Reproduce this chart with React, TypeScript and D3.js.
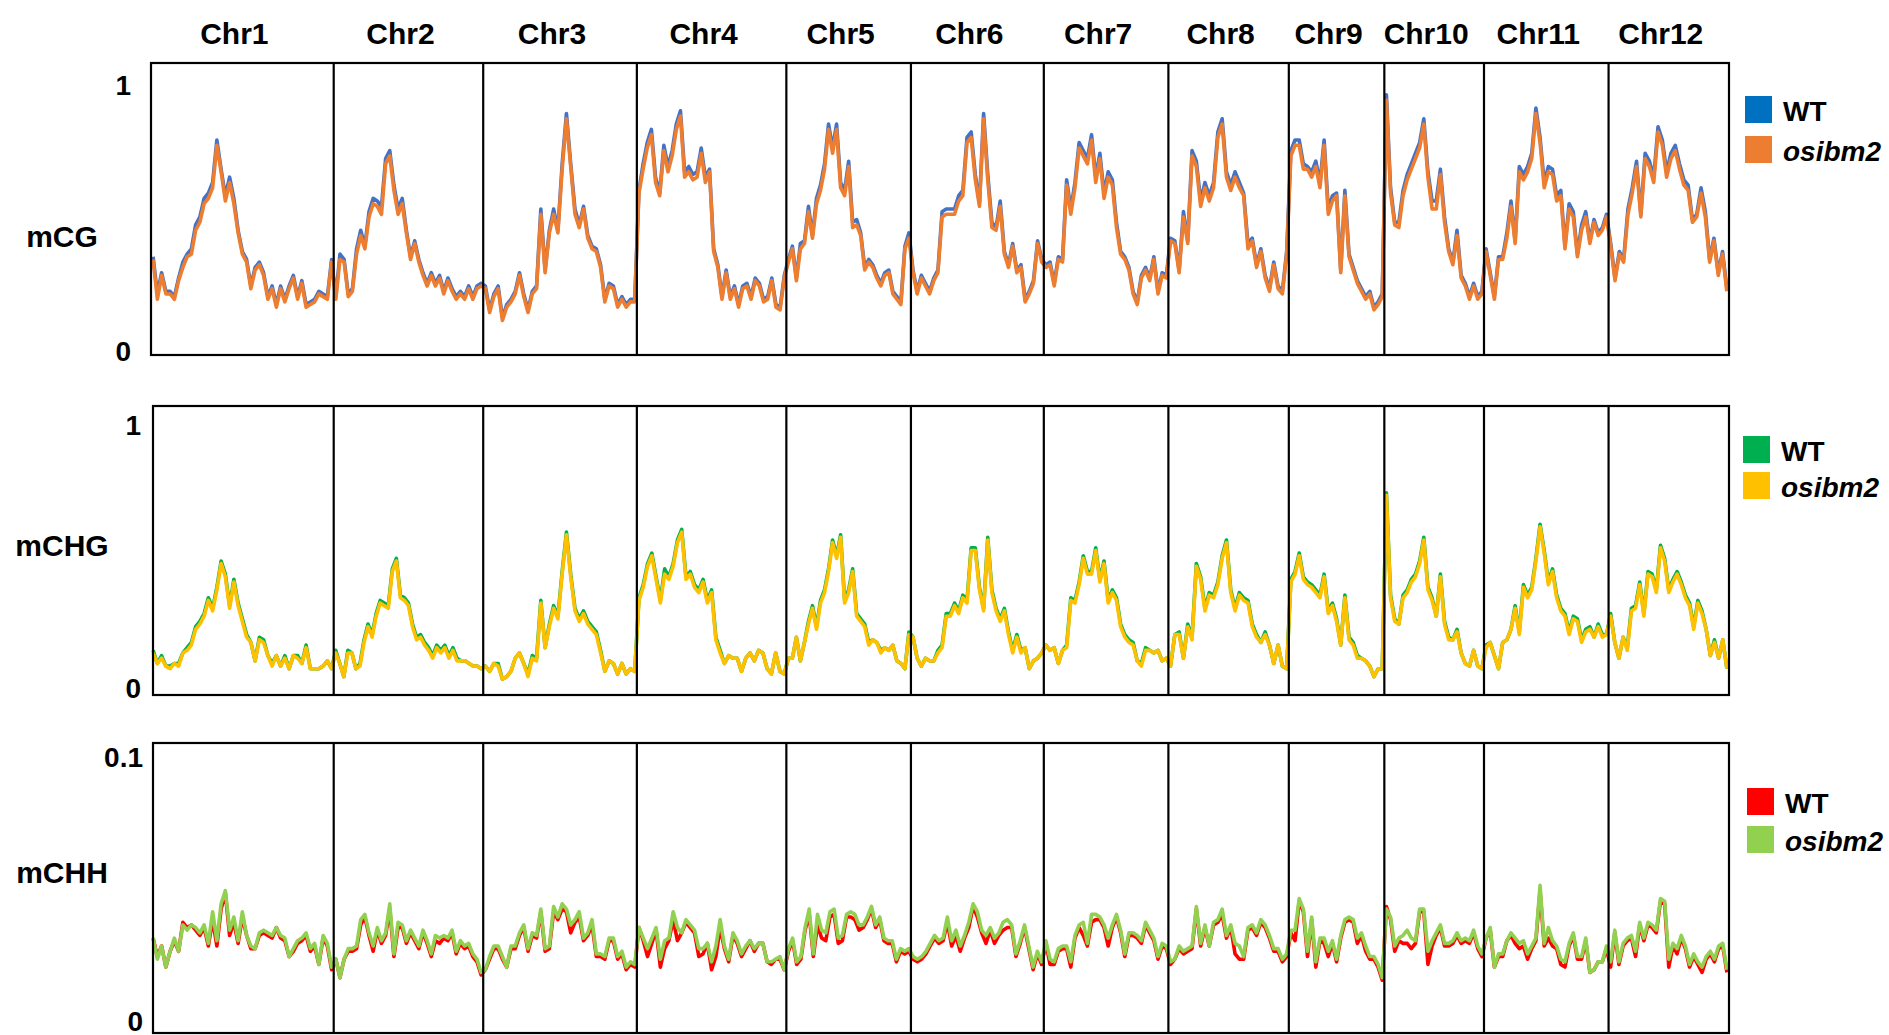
import React from 'react';
import * as d3 from 'd3';

// chromosome names and their width in 1 Mb bins
const chromosomes = ['Chr1', 'Chr2', 'Chr3', 'Chr4', 'Chr5', 'Chr6', 'Chr7', 'Chr8', 'Chr9', 'Chr10', 'Chr11', 'Chr12'];
const chromBins = [44, 36, 37, 36, 30, 32, 30, 29, 23, 24, 30, 29];

// mCG
const cgWT: number[][] = [
  [0.37,0.23,0.31,0.24,0.24,0.22,0.29,0.35,0.38,0.40,0.49,0.52,0.59,0.61,0.65,0.81,0.70,0.60,0.67,0.59,0.47,0.39,0.36,0.26,0.33,0.35,0.31,0.22,0.26,0.19,0.26,0.21,0.26,0.30,0.22,0.28,0.19,0.20,0.21,0.24,0.23,0.22,0.36],
  [0.22,0.38,0.36,0.23,0.25,0.40,0.47,0.41,0.54,0.59,0.58,0.56,0.74,0.77,0.64,0.55,0.59,0.47,0.37,0.43,0.36,0.31,0.27,0.31,0.27,0.30,0.24,0.29,0.25,0.22,0.24,0.22,0.26,0.22,0.26,0.27],
  [0.26,0.17,0.23,0.26,0.14,0.19,0.21,0.24,0.31,0.23,0.17,0.24,0.26,0.55,0.32,0.47,0.55,0.47,0.72,0.91,0.72,0.55,0.49,0.56,0.45,0.41,0.40,0.34,0.21,0.27,0.26,0.19,0.22,0.19,0.21,0.21],
  [0.62,0.72,0.80,0.85,0.67,0.61,0.79,0.71,0.77,0.87,0.92,0.69,0.71,0.68,0.69,0.78,0.67,0.70,0.40,0.34,0.22,0.32,0.22,0.26,0.19,0.26,0.27,0.22,0.29,0.27,0.21,0.22,0.29,0.19,0.18,0.30],
  [0.36,0.41,0.29,0.42,0.43,0.56,0.45,0.59,0.64,0.72,0.87,0.78,0.87,0.65,0.62,0.73,0.50,0.51,0.46,0.33,0.36,0.34,0.30,0.27,0.31,0.32,0.24,0.22,0.20,0.41,0.46],
  [0.32,0.24,0.30,0.27,0.24,0.29,0.32,0.54,0.55,0.55,0.55,0.60,0.62,0.82,0.84,0.68,0.57,0.91,0.68,0.50,0.48,0.58,0.39,0.34,0.42,0.32,0.34,0.21,0.24,0.28,0.43,0.36],
  [0.34,0.35,0.27,0.37,0.36,0.66,0.55,0.65,0.80,0.77,0.74,0.83,0.67,0.76,0.61,0.69,0.66,0.50,0.39,0.37,0.33,0.24,0.20,0.30,0.33,0.29,0.37,0.24,0.31,0.30],
  [0.44,0.43,0.32,0.54,0.43,0.77,0.73,0.58,0.65,0.60,0.65,0.84,0.89,0.69,0.64,0.69,0.65,0.61,0.42,0.44,0.34,0.40,0.30,0.25,0.35,0.26,0.24,0.39],
  [0.77,0.81,0.81,0.72,0.71,0.69,0.73,0.65,0.81,0.55,0.60,0.61,0.32,0.62,0.38,0.33,0.28,0.25,0.22,0.24,0.18,0.20,0.23],
  [0.98,0.63,0.50,0.50,0.62,0.68,0.72,0.76,0.80,0.89,0.69,0.58,0.58,0.70,0.52,0.40,0.35,0.47,0.30,0.27,0.22,0.27,0.22,0.24],
  [0.40,0.31,0.22,0.37,0.37,0.46,0.58,0.43,0.71,0.68,0.71,0.76,0.93,0.82,0.65,0.71,0.70,0.60,0.62,0.41,0.57,0.54,0.38,0.49,0.54,0.43,0.51,0.46,0.48,0.53],
  [0.42,0.29,0.39,0.36,0.55,0.63,0.73,0.53,0.76,0.73,0.67,0.86,0.81,0.69,0.76,0.79,0.72,0.66,0.64,0.51,0.53,0.63,0.54,0.36,0.44,0.31,0.39,0.25],
];
const cgMut: number[][] = [
  [0.36,0.21,0.30,0.23,0.23,0.21,0.28,0.33,0.37,0.38,0.47,0.50,0.57,0.59,0.63,0.79,0.69,0.58,0.65,0.57,0.46,0.38,0.35,0.25,0.32,0.34,0.30,0.21,0.25,0.18,0.25,0.20,0.25,0.29,0.21,0.27,0.18,0.19,0.20,0.23,0.22,0.21,0.35],
  [0.21,0.36,0.35,0.22,0.24,0.38,0.45,0.40,0.52,0.57,0.56,0.53,0.72,0.75,0.62,0.53,0.57,0.46,0.36,0.42,0.35,0.30,0.26,0.30,0.26,0.29,0.23,0.28,0.24,0.21,0.23,0.21,0.25,0.21,0.25,0.26],
  [0.25,0.16,0.22,0.25,0.13,0.18,0.20,0.23,0.30,0.22,0.16,0.23,0.25,0.53,0.31,0.46,0.53,0.46,0.70,0.89,0.71,0.53,0.48,0.55,0.44,0.40,0.39,0.33,0.20,0.26,0.25,0.18,0.21,0.18,0.20,0.20],
  [0.61,0.70,0.78,0.83,0.65,0.60,0.77,0.69,0.75,0.85,0.90,0.67,0.69,0.66,0.67,0.76,0.65,0.69,0.39,0.33,0.21,0.31,0.21,0.25,0.18,0.25,0.26,0.21,0.28,0.26,0.20,0.21,0.28,0.18,0.17,0.29],
  [0.35,0.40,0.28,0.40,0.42,0.54,0.44,0.57,0.62,0.70,0.85,0.76,0.85,0.63,0.60,0.71,0.48,0.49,0.45,0.32,0.35,0.33,0.29,0.26,0.30,0.31,0.23,0.21,0.19,0.40,0.44],
  [0.31,0.23,0.29,0.26,0.23,0.28,0.31,0.52,0.53,0.53,0.53,0.58,0.60,0.80,0.82,0.66,0.56,0.89,0.66,0.48,0.47,0.56,0.38,0.33,0.41,0.31,0.33,0.20,0.23,0.27,0.42,0.35],
  [0.33,0.34,0.26,0.36,0.35,0.64,0.53,0.63,0.78,0.75,0.72,0.81,0.65,0.74,0.59,0.67,0.64,0.48,0.38,0.36,0.32,0.23,0.19,0.29,0.32,0.28,0.36,0.23,0.30,0.29],
  [0.43,0.42,0.31,0.52,0.42,0.75,0.71,0.56,0.63,0.58,0.63,0.82,0.87,0.67,0.62,0.67,0.63,0.60,0.40,0.43,0.33,0.39,0.29,0.24,0.34,0.25,0.23,0.38],
  [0.75,0.79,0.79,0.70,0.70,0.67,0.71,0.63,0.79,0.53,0.58,0.60,0.31,0.60,0.37,0.32,0.27,0.24,0.21,0.23,0.17,0.19,0.22],
  [0.96,0.61,0.49,0.48,0.60,0.66,0.70,0.74,0.78,0.87,0.67,0.55,0.55,0.68,0.50,0.39,0.34,0.45,0.29,0.26,0.21,0.26,0.21,0.23],
  [0.39,0.30,0.21,0.36,0.36,0.44,0.56,0.42,0.69,0.66,0.69,0.74,0.91,0.80,0.63,0.69,0.68,0.58,0.60,0.40,0.55,0.52,0.37,0.47,0.52,0.42,0.50,0.45,0.47,0.52],
  [0.41,0.28,0.38,0.35,0.53,0.61,0.71,0.52,0.74,0.71,0.65,0.84,0.79,0.67,0.74,0.77,0.70,0.64,0.62,0.50,0.52,0.61,0.52,0.35,0.43,0.30,0.38,0.24],
];

// mCHG
const chgWT: number[][] = [
  [0.17,0.12,0.15,0.11,0.11,0.12,0.12,0.16,0.18,0.20,0.26,0.28,0.31,0.37,0.33,0.41,0.51,0.46,0.34,0.44,0.35,0.29,0.23,0.20,0.13,0.22,0.21,0.15,0.12,0.15,0.11,0.15,0.10,0.15,0.15,0.12,0.19,0.10,0.10,0.10,0.11,0.13,0.10],
  [0.17,0.12,0.07,0.17,0.16,0.10,0.12,0.21,0.27,0.23,0.31,0.36,0.35,0.34,0.48,0.52,0.38,0.37,0.35,0.27,0.22,0.23,0.20,0.18,0.15,0.19,0.17,0.19,0.15,0.18,0.14,0.13,0.13,0.12,0.11,0.11,0.10],
  [0.11,0.09,0.12,0.12,0.06,0.07,0.09,0.14,0.16,0.12,0.08,0.15,0.14,0.36,0.18,0.27,0.34,0.30,0.47,0.62,0.46,0.33,0.29,0.32,0.28,0.26,0.24,0.17,0.09,0.13,0.12,0.08,0.12,0.08,0.10,0.09],
  [0.37,0.42,0.50,0.54,0.45,0.36,0.48,0.45,0.50,0.59,0.63,0.45,0.47,0.42,0.40,0.44,0.36,0.40,0.22,0.17,0.12,0.15,0.14,0.14,0.09,0.14,0.16,0.13,0.17,0.16,0.10,0.08,0.16,0.09,0.08],
  [0.14,0.14,0.22,0.13,0.20,0.28,0.34,0.26,0.36,0.40,0.48,0.59,0.53,0.61,0.36,0.40,0.48,0.31,0.29,0.27,0.20,0.21,0.20,0.17,0.18,0.17,0.19,0.13,0.12,0.10,0.24],
  [0.22,0.14,0.11,0.14,0.13,0.13,0.17,0.19,0.31,0.31,0.35,0.32,0.38,0.36,0.56,0.56,0.41,0.33,0.60,0.40,0.33,0.29,0.33,0.24,0.17,0.23,0.17,0.18,0.10,0.13,0.14,0.16],
  [0.19,0.17,0.18,0.12,0.17,0.19,0.37,0.36,0.43,0.53,0.47,0.47,0.56,0.44,0.51,0.36,0.40,0.37,0.27,0.23,0.21,0.20,0.13,0.12,0.18,0.17,0.16,0.17,0.13,0.14],
  [0.11,0.23,0.24,0.14,0.27,0.22,0.50,0.45,0.33,0.39,0.38,0.43,0.53,0.59,0.40,0.33,0.39,0.37,0.36,0.27,0.23,0.20,0.24,0.19,0.12,0.19,0.11,0.10],
  [0.44,0.47,0.54,0.45,0.43,0.42,0.40,0.38,0.46,0.32,0.35,0.29,0.19,0.38,0.22,0.20,0.15,0.14,0.13,0.11,0.07,0.10,0.10],
  [0.77,0.38,0.29,0.27,0.38,0.40,0.44,0.46,0.51,0.60,0.41,0.37,0.30,0.46,0.28,0.22,0.21,0.25,0.16,0.12,0.11,0.17,0.11,0.10],
  [0.19,0.20,0.15,0.10,0.20,0.21,0.25,0.34,0.24,0.42,0.38,0.41,0.52,0.65,0.55,0.43,0.48,0.38,0.33,0.31,0.24,0.30,0.29,0.21,0.25,0.26,0.22,0.27,0.23,0.23],
  [0.31,0.20,0.14,0.22,0.18,0.33,0.34,0.43,0.31,0.47,0.46,0.40,0.57,0.52,0.40,0.44,0.47,0.43,0.38,0.35,0.26,0.36,0.32,0.25,0.15,0.21,0.14,0.21,0.10],
];
const chgMut: number[][] = [
  [0.16,0.12,0.14,0.11,0.10,0.12,0.11,0.16,0.17,0.19,0.25,0.27,0.30,0.36,0.32,0.40,0.50,0.45,0.33,0.43,0.34,0.28,0.22,0.20,0.13,0.21,0.20,0.15,0.11,0.15,0.11,0.14,0.10,0.15,0.14,0.12,0.18,0.10,0.10,0.10,0.11,0.13,0.10],
  [0.16,0.12,0.07,0.16,0.16,0.10,0.11,0.20,0.26,0.22,0.30,0.35,0.34,0.33,0.47,0.51,0.37,0.36,0.34,0.26,0.21,0.22,0.19,0.17,0.14,0.18,0.16,0.18,0.14,0.17,0.13,0.13,0.13,0.12,0.11,0.11,0.10],
  [0.11,0.09,0.12,0.11,0.06,0.07,0.09,0.14,0.16,0.12,0.07,0.14,0.13,0.35,0.18,0.26,0.33,0.29,0.46,0.61,0.45,0.32,0.28,0.31,0.27,0.25,0.23,0.16,0.09,0.13,0.12,0.08,0.12,0.08,0.10,0.09],
  [0.36,0.41,0.49,0.53,0.44,0.35,0.46,0.44,0.49,0.58,0.62,0.44,0.46,0.41,0.39,0.43,0.35,0.39,0.21,0.16,0.12,0.15,0.14,0.14,0.09,0.14,0.16,0.13,0.17,0.16,0.10,0.08,0.16,0.09,0.08],
  [0.14,0.14,0.22,0.13,0.20,0.27,0.33,0.25,0.35,0.39,0.47,0.58,0.52,0.60,0.35,0.39,0.47,0.30,0.28,0.26,0.19,0.21,0.20,0.16,0.18,0.17,0.19,0.13,0.12,0.10,0.23],
  [0.22,0.14,0.11,0.14,0.13,0.13,0.16,0.18,0.30,0.30,0.34,0.31,0.37,0.35,0.55,0.55,0.40,0.32,0.59,0.39,0.32,0.28,0.32,0.23,0.16,0.22,0.16,0.18,0.10,0.13,0.14,0.16],
  [0.19,0.17,0.18,0.12,0.17,0.18,0.36,0.35,0.42,0.52,0.46,0.46,0.55,0.43,0.50,0.35,0.39,0.36,0.26,0.22,0.20,0.19,0.13,0.11,0.17,0.17,0.16,0.17,0.13,0.14],
  [0.11,0.23,0.23,0.14,0.26,0.21,0.49,0.44,0.32,0.38,0.37,0.42,0.52,0.58,0.39,0.32,0.38,0.36,0.35,0.26,0.22,0.20,0.23,0.19,0.12,0.19,0.11,0.10],
  [0.43,0.46,0.53,0.44,0.42,0.41,0.39,0.37,0.45,0.31,0.34,0.28,0.19,0.37,0.21,0.19,0.14,0.14,0.13,0.11,0.07,0.10,0.10],
  [0.76,0.37,0.28,0.27,0.37,0.39,0.43,0.45,0.50,0.59,0.40,0.36,0.30,0.45,0.27,0.21,0.21,0.24,0.16,0.12,0.11,0.17,0.11,0.10],
  [0.18,0.20,0.15,0.10,0.20,0.21,0.25,0.33,0.23,0.41,0.37,0.40,0.51,0.64,0.54,0.42,0.47,0.37,0.32,0.30,0.23,0.29,0.28,0.20,0.24,0.25,0.22,0.26,0.22,0.23],
  [0.30,0.20,0.14,0.22,0.17,0.32,0.33,0.42,0.30,0.46,0.45,0.39,0.56,0.51,0.39,0.43,0.46,0.42,0.37,0.34,0.25,0.35,0.31,0.25,0.15,0.20,0.14,0.21,0.10],
];

// mCHH
const chhWT: number[][] = [
  [0.036,0.029,0.033,0.025,0.031,0.035,0.031,0.042,0.040,0.041,0.039,0.037,0.040,0.033,0.043,0.033,0.047,0.053,0.037,0.042,0.034,0.044,0.037,0.032,0.032,0.037,0.038,0.037,0.036,0.040,0.036,0.035,0.029,0.031,0.034,0.035,0.037,0.031,0.033,0.026,0.036,0.033,0.024],
  [0.028,0.021,0.028,0.031,0.031,0.032,0.041,0.044,0.037,0.031,0.039,0.034,0.037,0.047,0.029,0.040,0.040,0.034,0.038,0.035,0.032,0.038,0.034,0.029,0.035,0.034,0.036,0.035,0.038,0.030,0.034,0.032,0.033,0.029,0.027,0.022],
  [0.024,0.028,0.032,0.032,0.028,0.025,0.032,0.032,0.037,0.040,0.031,0.037,0.036,0.046,0.031,0.032,0.046,0.043,0.047,0.046,0.038,0.042,0.044,0.035,0.037,0.041,0.029,0.029,0.028,0.035,0.035,0.028,0.030,0.024,0.026,0.025],
  [0.040,0.035,0.029,0.034,0.039,0.025,0.032,0.035,0.043,0.035,0.038,0.042,0.040,0.038,0.029,0.030,0.034,0.024,0.029,0.040,0.032,0.027,0.037,0.034,0.029,0.032,0.035,0.031,0.034,0.034,0.027,0.026,0.028,0.028,0.024],
  [0.031,0.035,0.026,0.028,0.039,0.045,0.029,0.041,0.036,0.035,0.044,0.045,0.034,0.035,0.044,0.044,0.043,0.039,0.040,0.043,0.047,0.040,0.043,0.035,0.034,0.034,0.027,0.031,0.030,0.031],
  [0.028,0.027,0.028,0.030,0.033,0.036,0.034,0.035,0.042,0.033,0.037,0.031,0.036,0.040,0.048,0.044,0.038,0.034,0.039,0.034,0.037,0.039,0.040,0.040,0.029,0.034,0.040,0.032,0.024,0.030,0.026],
  [0.034,0.026,0.026,0.031,0.032,0.032,0.025,0.036,0.040,0.037,0.033,0.042,0.043,0.043,0.040,0.033,0.040,0.044,0.038,0.029,0.037,0.037,0.036,0.034,0.041,0.038,0.035,0.028,0.033,0.032],
  [0.026,0.028,0.032,0.030,0.031,0.032,0.047,0.033,0.040,0.033,0.041,0.042,0.045,0.036,0.040,0.030,0.028,0.028,0.039,0.040,0.037,0.042,0.040,0.036,0.031,0.031,0.027,0.029],
  [0.038,0.035,0.050,0.046,0.029,0.043,0.025,0.035,0.034,0.029,0.034,0.027,0.036,0.042,0.043,0.042,0.034,0.037,0.031,0.028,0.028,0.025,0.020],
  [0.048,0.043,0.031,0.035,0.034,0.034,0.032,0.034,0.046,0.046,0.026,0.033,0.037,0.040,0.033,0.033,0.034,0.037,0.034,0.035,0.034,0.038,0.032,0.029],
  [0.036,0.039,0.025,0.029,0.029,0.035,0.037,0.034,0.032,0.033,0.028,0.032,0.035,0.054,0.033,0.036,0.033,0.032,0.026,0.025,0.033,0.037,0.028,0.028,0.035,0.023,0.024,0.027,0.027,0.032],
  [0.025,0.038,0.026,0.033,0.035,0.036,0.029,0.041,0.035,0.041,0.040,0.038,0.050,0.049,0.025,0.033,0.030,0.036,0.032,0.025,0.029,0.026,0.023,0.028,0.030,0.027,0.032,0.033,0.023],
];
const chhMut: number[][] = [
  [0.036,0.028,0.033,0.025,0.031,0.036,0.031,0.041,0.039,0.041,0.040,0.038,0.041,0.034,0.046,0.035,0.049,0.054,0.039,0.044,0.035,0.046,0.037,0.033,0.032,0.038,0.039,0.038,0.037,0.040,0.037,0.036,0.029,0.032,0.035,0.036,0.038,0.032,0.034,0.026,0.037,0.034,0.025],
  [0.028,0.021,0.028,0.032,0.032,0.033,0.043,0.045,0.038,0.033,0.040,0.035,0.038,0.049,0.030,0.042,0.041,0.035,0.039,0.036,0.033,0.039,0.035,0.030,0.037,0.036,0.037,0.036,0.039,0.031,0.035,0.033,0.034,0.030,0.028,0.023],
  [0.024,0.029,0.033,0.033,0.029,0.025,0.033,0.033,0.038,0.041,0.032,0.038,0.037,0.047,0.032,0.033,0.048,0.044,0.049,0.047,0.041,0.043,0.046,0.036,0.038,0.043,0.030,0.030,0.029,0.036,0.036,0.029,0.031,0.025,0.027,0.026],
  [0.040,0.036,0.032,0.036,0.040,0.028,0.035,0.036,0.046,0.040,0.038,0.043,0.041,0.039,0.032,0.032,0.034,0.027,0.033,0.043,0.033,0.028,0.038,0.035,0.030,0.033,0.035,0.032,0.034,0.034,0.027,0.027,0.028,0.029,0.024],
  [0.032,0.036,0.027,0.029,0.040,0.047,0.030,0.045,0.039,0.038,0.046,0.047,0.036,0.037,0.045,0.046,0.045,0.041,0.041,0.044,0.048,0.041,0.044,0.036,0.035,0.035,0.028,0.032,0.031,0.032],
  [0.029,0.028,0.029,0.031,0.034,0.037,0.035,0.036,0.044,0.035,0.039,0.033,0.037,0.042,0.049,0.046,0.039,0.037,0.040,0.036,0.038,0.042,0.043,0.041,0.030,0.035,0.041,0.033,0.025,0.031,0.027],
  [0.035,0.028,0.027,0.032,0.033,0.033,0.027,0.037,0.041,0.042,0.034,0.045,0.045,0.044,0.041,0.036,0.041,0.045,0.039,0.030,0.038,0.038,0.037,0.035,0.042,0.039,0.036,0.029,0.034,0.033],
  [0.027,0.028,0.033,0.031,0.032,0.033,0.048,0.034,0.041,0.033,0.042,0.043,0.047,0.037,0.041,0.034,0.033,0.029,0.040,0.041,0.038,0.043,0.041,0.037,0.032,0.032,0.028,0.030],
  [0.039,0.039,0.051,0.047,0.031,0.044,0.027,0.036,0.036,0.031,0.035,0.028,0.037,0.043,0.044,0.043,0.036,0.038,0.033,0.029,0.029,0.026,0.021],
  [0.047,0.044,0.033,0.036,0.037,0.039,0.036,0.035,0.047,0.047,0.031,0.035,0.038,0.041,0.034,0.034,0.035,0.038,0.035,0.036,0.035,0.039,0.033,0.030],
  [0.036,0.040,0.025,0.030,0.030,0.035,0.038,0.036,0.034,0.035,0.030,0.033,0.036,0.056,0.034,0.040,0.035,0.033,0.028,0.027,0.034,0.038,0.029,0.029,0.036,0.023,0.024,0.027,0.027,0.033],
  [0.027,0.039,0.027,0.034,0.036,0.037,0.031,0.042,0.036,0.042,0.041,0.039,0.051,0.050,0.028,0.034,0.032,0.037,0.033,0.026,0.030,0.027,0.025,0.029,0.031,0.028,0.033,0.034,0.024],
];

const seriesNames = ['WT', 'osibm2'];

const W = 1889;
const H = 1035;
const FONT = '"Liberation Sans", Arial, Helvetica, sans-serif';

interface Row {
  label: string;
  wt: number[][];
  mut: number[][];
  yMax: number;
  ticks: number[];
  wtColor: string;
  mutColor: string;
  wtKey: string;
  top: number;
  bottom: number;
  left: number;
  labelY: number;
  tickX: number;
  tickDy: number;
  legendX: number;
  legendY: number;
  legendGap: number;
}

const rows: Row[] = [
  { label: 'mCG', wt: cgWT, mut: cgMut, yMax: 1.1, ticks: [0, 1], wtColor: '#4472C4', mutColor: '#ED7D31', wtKey: '#0070C0',
    top: 63, bottom: 355, left: 151, labelY: 236, tickX: 131, tickDy: -4, legendX: 1745, legendY: 96, legendGap: 40 },
  { label: 'mCHG', wt: chgWT, mut: chgMut, yMax: 1.1, ticks: [0, 1], wtColor: '#00B050', mutColor: '#FFC000', wtKey: '#00B050',
    top: 406, bottom: 695, left: 153, labelY: 545, tickX: 141, tickDy: -7, legendX: 1743, legendY: 436, legendGap: 36 },
  { label: 'mCHH', wt: chhWT, mut: chhMut, yMax: 0.11, ticks: [0, 0.1], wtColor: '#FF0000', mutColor: '#92D050', wtKey: '#FF0000',
    top: 743, bottom: 1033, left: 153, labelY: 872, tickX: 143, tickDy: -12, legendX: 1747, legendY: 788, legendGap: 38 },
];

const LEFT = 151;
const RIGHT = 1729;
const offsets = chromBins.map((_, i) => d3.sum(chromBins.slice(0, i)));
const totalBins = d3.sum(chromBins);
const x = d3.scaleLinear().domain([0, totalBins]).range([LEFT, RIGHT]);

function flatten(values: number[][]): [number, number][] {
  const pts: [number, number][] = [];
  values.forEach((vals, c) => {
    vals.forEach((v, i) => {
      pts.push([offsets[c] + ((i + 0.5) * chromBins[c]) / vals.length, v]);
    });
  });
  return pts;
}

const PanelRow: React.FC<{ row: Row }> = ({ row }) => {
  const y = d3.scaleLinear().domain([0, row.yMax]).range([row.bottom, row.top]);
  const line = d3.line<[number, number]>().x(d => x(d[0])).y(d => y(d[1]));

  return (
    <g>
      <rect x={row.left} y={row.top} width={RIGHT - row.left} height={row.bottom - row.top} fill="#fff" />
      <path d={line(flatten(row.wt)) || ''} fill="none" stroke={row.wtColor} strokeWidth={3.6} strokeLinejoin="round" />
      <path d={line(flatten(row.mut)) || ''} fill="none" stroke={row.mutColor} strokeWidth={3.6} strokeLinejoin="round" />
      {offsets.slice(1).map((o, i) => (
        <line key={i} x1={x(o)} x2={x(o)} y1={row.top} y2={row.bottom} stroke="#000" strokeWidth={2.2} />
      ))}
      <rect x={row.left} y={row.top} width={RIGHT - row.left} height={row.bottom - row.top}
        fill="none" stroke="#000" strokeWidth={2.2} />
      {row.ticks.map(t => (
        <text key={t} x={row.tickX} y={y(t) + row.tickDy} textAnchor="end" dominantBaseline="central"
          fontFamily={FONT} fontWeight="bold" fontSize={28}>{t}</text>
      ))}
      <text x={62} y={row.labelY} textAnchor="middle" dominantBaseline="central"
        fontFamily={FONT} fontWeight="bold" fontSize={30}>{row.label}</text>
      {seriesNames.map((name, i) => (
        <g key={name} transform={`translate(${row.legendX},${row.legendY + i * row.legendGap})`}>
          <rect width={27} height={27} fill={i === 0 ? row.wtKey : row.mutColor} />
          <text x={38} y={25} fontFamily={FONT} fontWeight="bold" fontSize={28}
            fontStyle={i === 0 ? 'normal' : 'italic'}>{name}</text>
        </g>
      ))}
    </g>
  );
};

const App: React.FC = () => {
  return (
    <svg width={W} height={H} style={{ position: 'absolute', left: 0, top: 0, background: '#fff' }}>
      <rect width={W} height={H} fill="#fff" />
      {chromosomes.map((c, i) => (
        <text key={c} x={x(offsets[i] + chromBins[i] / 2) - 8} y={44} textAnchor="middle"
          fontFamily={FONT} fontWeight="bold" fontSize={30}>{c}</text>
      ))}
      {rows.map(r => <PanelRow key={r.label} row={r} />)}
    </svg>
  );
};

export default App;
